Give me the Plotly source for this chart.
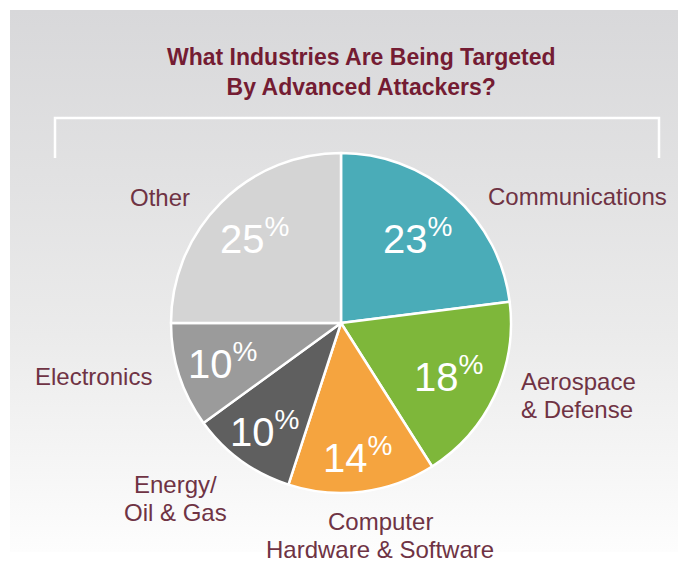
import math
import plotly.graph_objects as go

# Survey data: share of advanced attacks by targeted industry
industries = ["Communications", "Aerospace\n& Defense", "Computer\nHardware & Software",
              "Energy/\nOil & Gas", "Electronics", "Other"]
shares = [23, 18, 14, 10, 10, 25]
slice_colors = ["#4aacb8", "#7eb73a", "#f5a43f", "#5f5f5f", "#9b9b9b", "#d4d4d4"]

W, H = 688, 562
CX, CY, R = 341, 323, 170          # pie centre / radius in pixels
LINE_STEP = 28                     # pixel spacing between label lines


def px(x):
    return x / W


def py(y):
    return 1 - y / H


fig = go.Figure()

# gradient panel behind everything (light at the bottom, grey at the top)
fig.add_trace(go.Scatter(
    x=[10, 678, 678, 10, 10], y=[10, 10, 552, 552, 10],
    mode="lines", line=dict(width=0), fill="toself",
    fillgradient=dict(type="vertical",
                      colorscale=[[0, "#fdfdfd"], [0.15, "#f6f6f6"], [0.4, "#ebebeb"],
                                  [0.7, "#e1e1e2"], [1, "#d8d8da"]]),
    hoverinfo="skip", showlegend=False,
))

fig.add_trace(go.Pie(
    labels=[s.replace("\n", " ") for s in industries],
    values=shares,
    sort=False, direction="clockwise", rotation=0,
    marker=dict(colors=slice_colors, line=dict(color="white", width=2.5)),
    textinfo="none", hoverinfo="skip", showlegend=False,
    domain=dict(x=[px(CX - R), px(CX + R)], y=[py(CY + R), py(CY - R)]),
))

# percentage labels, placed along each slice's mid angle
radial = [0.68, 0.70, 0.78, 0.77, 0.73, 0.72]
annotations = []
total = sum(shares)
cum = 0
for v, rf in zip(shares, radial):
    mid = (cum + v / 2) / total * 2 * math.pi
    cum += v
    x = CX + rf * R * math.sin(mid)
    y = CY - rf * R * math.cos(mid)
    annotations.append(dict(
        x=px(x), y=py(y), xref="paper", yref="paper", showarrow=False,
        text=f"{v}<sup>%</sup>",
        font=dict(family="Liberation Sans, Arial, sans-serif", size=40, color="white"),
        xanchor="center", yanchor="middle",
    ))

# category labels around the pie; one annotation per line for tight spacing
label_font = dict(family="Liberation Sans, Arial, sans-serif", size=24, color="#6f3344")
label_pos = [  # (x, y of first line, xanchor)
    (577, 196, "center"),
    (520, 381, "left"),
    (380, 521, "center"),
    (175, 484, "center"),
    (93, 376, "center"),
    (160, 197, "center"),
]
for name, (x, y, xa) in zip(industries, label_pos):
    for i, line in enumerate(name.split("\n")):
        annotations.append(dict(
            x=px(x), y=py(y + i * LINE_STEP), xref="paper", yref="paper", showarrow=False,
            text=line, xanchor=xa, yanchor="middle", font=label_font,
            borderpad=0,
        ))

# title
annotations.append(dict(
    x=px(361), y=py(72), xref="paper", yref="paper", showarrow=False,
    text="<b>What Industries Are Being Targeted<br>By Advanced Attackers?</b>",
    font=dict(family="Liberation Sans, Arial, sans-serif", size=23, color="#741c33"),
    xanchor="center", yanchor="middle", align="center",
))

# white bracket under the title
shapes = [dict(
    type="path", xref="paper", yref="paper",
    path=f"M {px(55)},{py(158)} L {px(55)},{py(118)} L {px(659)},{py(118)} L {px(659)},{py(158)}",
    line=dict(color="white", width=2.5),
)]

fig.update_layout(
    width=W, height=H,
    margin=dict(l=0, r=0, t=0, b=0),
    paper_bgcolor="white", plot_bgcolor="rgba(0,0,0,0)",
    xaxis=dict(range=[0, W], visible=False, fixedrange=True),
    yaxis=dict(range=[H, 0], visible=False, fixedrange=True),
    annotations=annotations, shapes=shapes,
    hovermode=False,
)

fig.write_html("out.html", config={"displayModeBar": False})
